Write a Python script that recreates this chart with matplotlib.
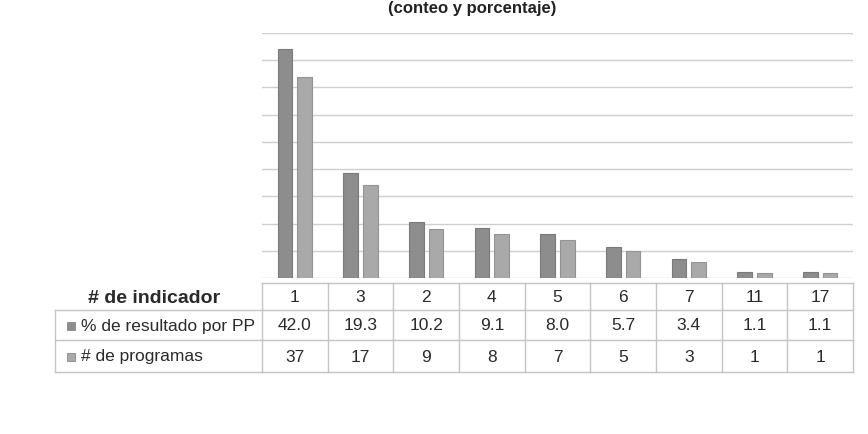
import matplotlib
matplotlib.use("Agg")
import matplotlib.pyplot as plt
from matplotlib.lines import Line2D
from matplotlib.patches import Rectangle

plt.rcParams['font.family'] = ['Liberation Sans', 'DejaVu Sans']

categories = ["1", "3", "2", "4", "5", "6", "7", "11", "17"]
pct_resultado = [42.0, 19.3, 10.2, 9.1, 8.0, 5.7, 3.4, 1.1, 1.1]
num_programas = [37, 17, 9, 8, 7, 5, 3, 1, 1]
series_names = ["% de resultado por PP", "# de programas"]
header_label = "# de indicador"
title_text = "(conteo y porcentaje)"

W, H = 868, 434
fig = plt.figure(figsize=(W / 100, H / 100), dpi=100)
fig.patch.set_facecolor("white")

def fx(px):
    return px / W

def fy(py):
    return 1 - py / H

left, right, top, base = 262, 853, 33, 278
ax = fig.add_axes([fx(left), fy(base), fx(right - left), (base - top) / H])
ax.set_xlim(-0.5, len(categories) - 0.5)
ax.set_ylim(0, 45)
ax.set_yticks(range(0, 46, 5))
ax.yaxis.grid(True, color="#cfcfcf", linewidth=1.0)
ax.set_axisbelow(True)
for s in ax.spines.values():
    s.set_visible(False)
ax.tick_params(left=False, bottom=False, labelleft=False, labelbottom=False)

c1, c2 = "#8d8d8d", "#a9a9a9"
x = list(range(len(categories)))
bw = 0.22
ax.bar([i - 0.15 for i in x], pct_resultado, width=bw, color=c1,
       edgecolor="#7a7a7a", linewidth=0.8)
ax.bar([i + 0.15 for i in x], num_programas, width=bw, color=c2,
       edgecolor="#939393", linewidth=0.8)

# Title (at the very top, as in the reference)
fig.text(fx(472), fy(1), title_text, ha="center", va="top",
         fontsize=12, fontweight="bold", color="#222222")

# Data table
lc = "#c4c4c4"
col_w = (right - left) / len(categories)
row_y = [283, 310, 340, 372]
label_left = 55

def hline(x0, x1, y):
    fig.add_artist(Line2D([fx(x0), fx(x1)], [fy(y), fy(y)], color=lc, lw=1.0))

def vline(xx, y0, y1):
    fig.add_artist(Line2D([fx(xx), fx(xx)], [fy(y0), fy(y1)], color=lc, lw=1.0))

hline(left, right, row_y[0])
for y in row_y[1:]:
    hline(label_left, right, y)
vline(label_left, row_y[1], row_y[3])
for i in range(len(categories) + 1):
    vline(left + i * col_w, row_y[0], row_y[3])

txt_color = "#2a2a2a"
fs = 12.5
centers = [(row_y[k] + row_y[k + 1]) / 2 + 1 for k in range(3)]
fig.text(fx(88), fy(centers[0] + 1), header_label, ha="left", va="center",
         fontsize=14, fontweight="bold", color=txt_color)
for k, (name, col) in enumerate(zip(series_names, [c1, c2])):
    cy = centers[k + 1]
    fig.add_artist(Rectangle((fx(67), fy(cy + 4)), fx(8), 8 / H,
                             facecolor=col, edgecolor="#888888", lw=0.6))
    fig.text(fx(81), fy(cy), name, ha="left", va="center",
             fontsize=fs, color=txt_color)

for i, cat in enumerate(categories):
    cx = left + (i + 0.5) * col_w
    fig.text(fx(cx), fy(centers[0]), cat, ha="center", va="center",
             fontsize=fs, color=txt_color)
    fig.text(fx(cx), fy(centers[1]), f"{pct_resultado[i]:.1f}", ha="center",
             va="center", fontsize=fs, color=txt_color)
    fig.text(fx(cx), fy(centers[2]), f"{num_programas[i]}", ha="center",
             va="center", fontsize=fs, color=txt_color)

fig.savefig("out.png", dpi=100)
